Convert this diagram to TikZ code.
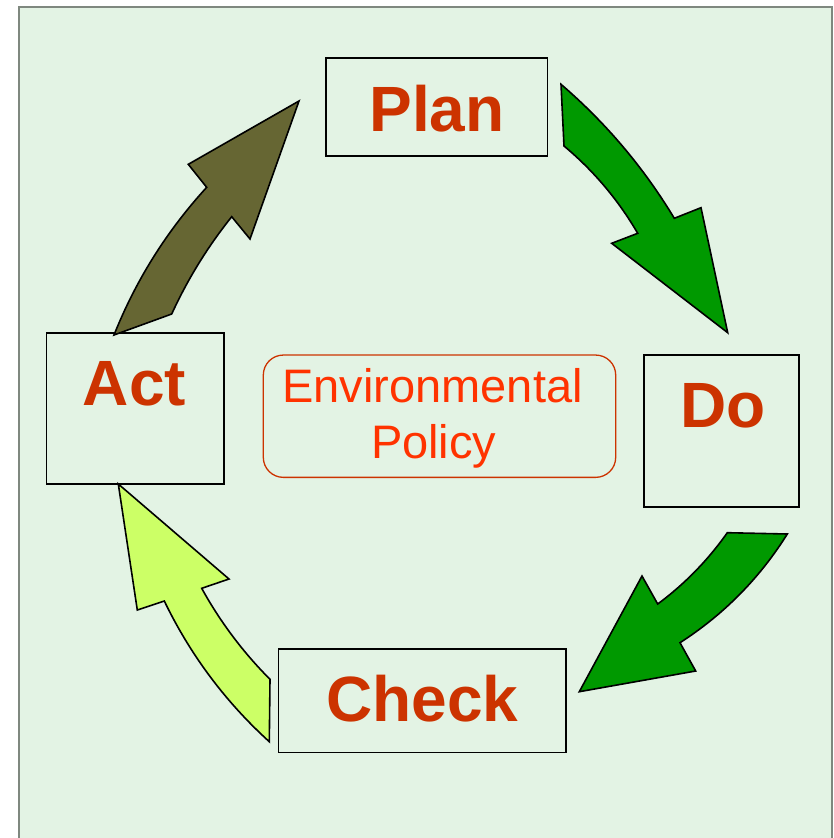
\documentclass[tikz,border=0pt]{standalone}
\usepackage{fontspec}
\setmainfont{Liberation Sans}
\definecolor{bgfill}{HTML}{E3F3E4}
\definecolor{bgline}{HTML}{7F887F}
\definecolor{labred}{HTML}{CC3300}
\definecolor{polred}{HTML}{FF3300}
\definecolor{polline}{HTML}{CC3300}
\definecolor{arrgreen}{HTML}{009900}
\definecolor{arrlime}{HTML}{CCFF66}
\definecolor{arrolive}{HTML}{666633}
\tikzset{
  stepbox/.style={draw=black, line width=1.6pt, inner sep=0pt, rectangle},
  steplabel/.style={anchor=base, inner sep=0pt, text=labred, font=\bfseries\fontsize{64}{64}\selectfont},
  polbox/.style={draw=polline, line width=1.3pt, rounded corners=20pt, inner sep=0pt, rectangle},
  pollabel/.style={anchor=base, inner sep=0pt, text=polred, font=\fontsize{47}{47}\selectfont},
  blockarrow/.style={draw=black, line width=1.6pt, line join=miter, miter limit=20}
}
\begin{document}
\begin{tikzpicture}[x=1pt,y=-1pt]
\useasboundingbox (0,0) rectangle (834,838);
\fill[bgfill] (18,6) rectangle (832,838);
\draw[bgline, line width=2pt] (19,838) -- (19,7) -- (831.5,7) -- (831.5,838);

% boxes
\node[stepbox, minimum width=221.7pt, minimum height=98pt] (plan) at (436.8,107) {};
\node[stepbox, minimum width=155pt, minimum height=152pt] (do) at (721.5,430.7) {};
\node[stepbox, minimum width=177.3pt, minimum height=151pt] (act) at (135.3,408.5) {};
\node[stepbox, minimum width=287.3pt, minimum height=103.7pt] (check) at (422.3,700.8) {};
\node[polbox, minimum width=352.4pt, minimum height=122.3pt] (policy) at (439.5,416.2) {};

% labels
\node[steplabel] (plantext) at (437,131.7) {Plan};
\node[steplabel] (dotext) at (722.9,427.3) {Do};
\node[steplabel] (acttext) at (134.5,405) {Act};
\node[steplabel] (checktext) at (422.5,721.7) {Check};
\node[pollabel] (poltext1) at (432.5,402.3) {Environmental};
\node[pollabel] (poltext2) at (433.7,458.3) {Policy};

% block arrows
% Plan -> Do
\filldraw[blockarrow, fill=arrgreen]
  (561,84.3) .. controls (605.8,122.8) and (643.6,167.4) .. (674.3,218.3)
  -- (701,207.7) -- (727.7,332.7) -- (611.7,243.3) -- (637.7,233.3)
  .. controls (618.2,199.9) and (593.7,170.8) .. (564,146) -- cycle;
% Do -> Check
\filldraw[blockarrow, fill=arrgreen]
  (727.3,532.7) -- (787.3,534) .. controls (759.6,578.2) and (723.9,614.4) .. (680,642.7)
  -- (695.7,671) -- (579.3,691.7) -- (642,576) -- (657.7,604)
  .. controls (684.7,584) and (707.9,560.2) .. (727.3,532.7) -- cycle;
% Check -> Act
\filldraw[blockarrow, fill=arrlime]
  (118.3,484) -- (229,579) -- (201.7,588.3)
  .. controls (220.2,621.8) and (243,652.2) .. (270,679.3)
  -- (269.3,741.7) .. controls (225.2,701.6) and (190.2,654.7) .. (164.3,601)
  -- (137.3,610) -- cycle;
% Act -> Plan
\filldraw[blockarrow, fill=arrolive]
  (114,335) -- (171.7,314) .. controls (187.7,279.1) and (207.7,246.7) .. (231.7,216.7)
  -- (250,239) -- (299,101) -- (188.3,164.3) -- (206.7,187.3)
  .. controls (166.8,230.9) and (135.9,280.1) .. (114,335) -- cycle;
\end{tikzpicture}
\end{document}
